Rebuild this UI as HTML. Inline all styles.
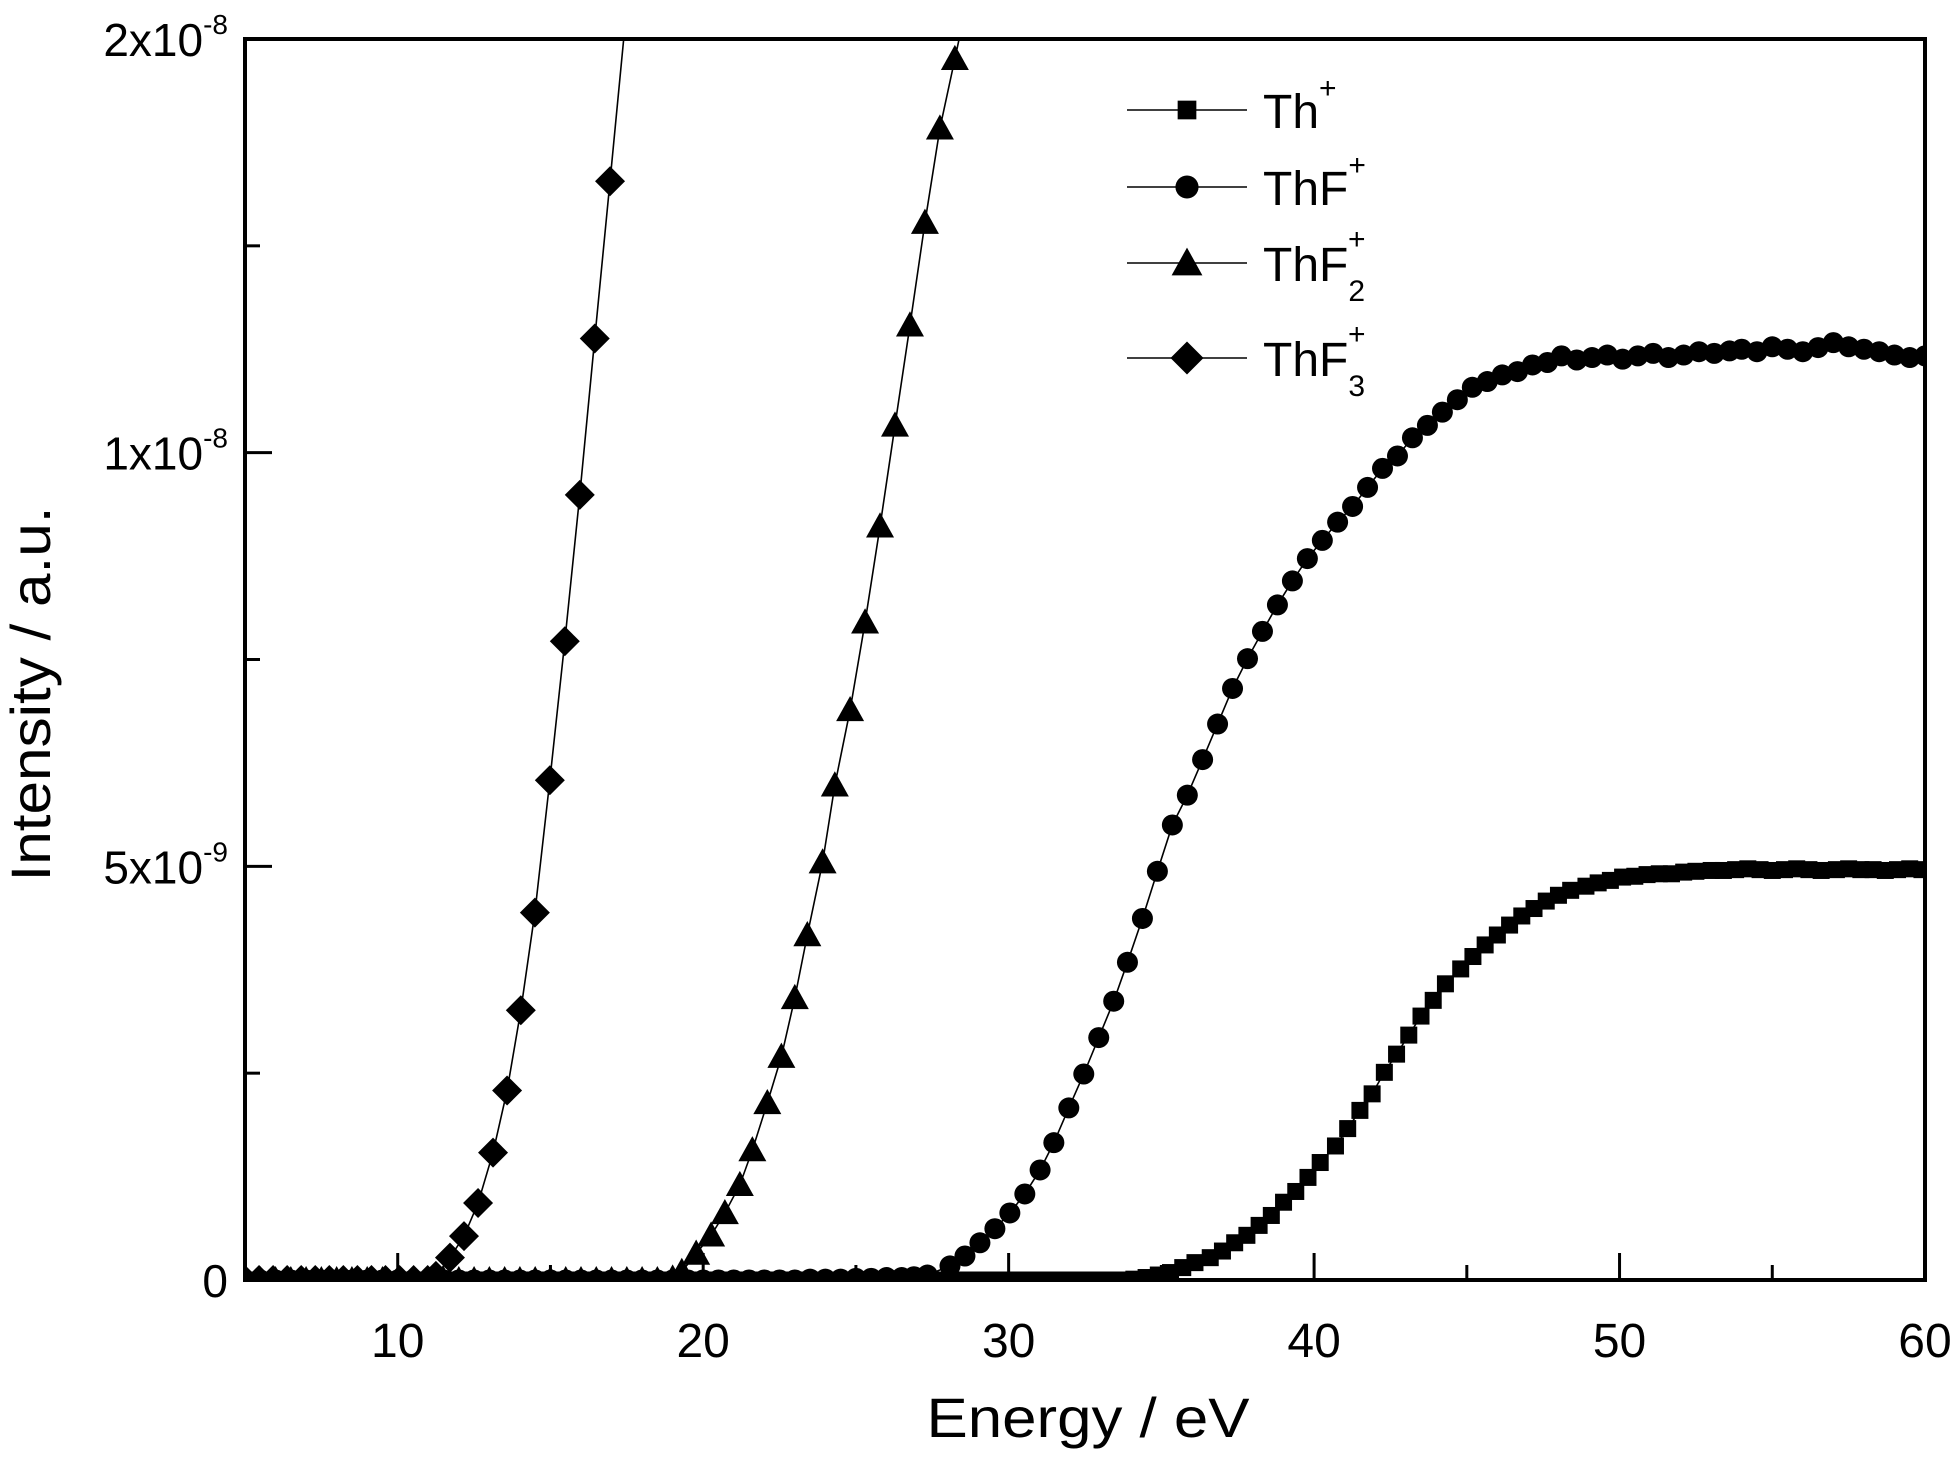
<!DOCTYPE html>
<html><head><meta charset="utf-8"><style>
html,body{margin:0;padding:0;background:#fff;}
svg{display:block;font-family:"Liberation Sans",Arial,sans-serif;}
</style></head><body>
<svg id="chart" width="1960" height="1462" viewBox="0 0 1960 1462" xmlns="http://www.w3.org/2000/svg">
<defs><clipPath id="plotclip"><rect x="245" y="39" width="1680" height="1241"/></clipPath></defs>
<rect x="0" y="0" width="1960" height="1462" fill="#fff"/>
<g id="series" clip-path="url(#plotclip)"></g>
<g id="axes"></g>
<g id="legend"></g>
<text x="1088" y="1437" font-size="56" text-anchor="middle" textLength="323" lengthAdjust="spacingAndGlyphs">Energy  / eV</text>
<text transform="translate(50,694) rotate(-90)" font-size="56" text-anchor="middle" textLength="375" lengthAdjust="spacingAndGlyphs">Intensity / a.u.</text>
</svg>
<script>
// ---- data (y in units of 1e-9) ----
const thX = [5.0,5.4,5.8,6.2,6.6,7.1,7.5,7.9,8.3,8.7,9.1,9.5,9.9,10.3,10.7,11.2,11.6,12.0,12.4,12.8,13.2,13.6,14.0,14.4,14.8,15.3,15.7,16.1,16.5,16.9,17.3,17.7,18.1,18.5,18.9,19.4,19.8,20.2,20.6,21.0,21.4,21.8,22.2,22.6,23.0,23.5,23.9,24.3,24.7,25.1,25.5,25.9,26.3,26.7,27.1,27.6,28.0,28.4,28.8,29.2,29.6,30.0,30.4,30.8,31.2,31.7,32.1,32.5,32.9,33.3,
33.7,34.1,34.5,34.9,35.3,35.7,36.1,36.6,37.0,37.4,37.8,38.2,38.6,39.0,39.4,39.8,40.2,40.7,41.1,41.5,41.9,42.3,42.7,43.1,43.5,43.9,44.3,44.8,45.2,45.6,46.0,46.4,46.8,47.2,47.6,48.0,48.4,48.9,49.3,49.7,50.1,50.5,50.9,51.3,51.7,52.1,52.5,53.0,53.4,53.8,54.2,54.6,55.0,55.4,55.8,56.2,56.6,57.1,57.5,57.9,58.3,58.7,59.1,59.5,59.9];
const thY = [0,0,0,0,0,0,0,0,0,0,0,0,0,0,0,0,0,0,0,0,0,0,0,0,0,0,0,0,0,0,0,0,0,0,0,0,0,0,0,0,0,0,0,0,0,0,0,0,0,0,0,0,0,0,0,0,0,0,0,0,0,0,0,0,0,0,0,0,0,0,
0,0.01,0.03,0.06,0.09,0.15,0.21,0.27,0.35,0.45,0.54,0.66,0.78,0.94,1.07,1.24,1.42,1.62,1.83,2.05,2.25,2.51,2.73,2.96,3.19,3.38,3.58,3.76,3.91,4.05,4.17,4.29,4.40,4.49,4.58,4.65,4.71,4.76,4.80,4.83,4.87,4.88,4.90,4.91,4.91,4.93,4.94,4.95,4.95,4.96,4.97,4.96,4.95,4.96,4.97,4.96,4.95,4.96,4.97,4.96,4.96,4.95,4.96,4.97,4.96];
const thfX = [5.0,5.5,6.0,6.5,7.0,7.5,8.0,8.5,9.0,9.5,10.0,10.5,11.0,11.5,12.0,12.5,13.0,13.5,14.0,14.5,15.0,15.5,16.0,16.5,17.0,17.5,18.0,18.5,19.0,19.5,20.0,20.5,21.0,21.5,22.0,22.5,23.0,23.5,24.0,24.5,25.0,25.5,26.0,26.5,26.9,
27.34,28.08,28.57,29.06,29.55,30.04,30.53,31.03,31.48,31.97,32.46,32.95,33.44,33.89,34.38,34.87,35.36,35.85,36.35,36.84,37.33,37.82,38.31,38.80,39.29,39.78,40.27,40.77,41.26,41.75,42.24,42.73,43.22,43.71,44.20,44.69,45.18,45.67,46.16,46.66,47.15,47.64,
48.1,48.6,49.1,49.6,50.1,50.6,51.1,51.6,52.1,52.6,53.1,53.6,54.0,54.5,55.0,55.5,56.0,56.5,57.0,57.5,58.0,58.5,59.0,59.5,60.0];
const thfY = [0,0,0,0,0,0,0,0,0,0,0,0,0,0,0,0,0,0,0,0,0,0,0,0,0,0,0,0,0,0,0,0,0,0,0,0,0,0.01,0.01,0.01,0.02,0.02,0.03,0.03,0.04,
0.06,0.17,0.29,0.45,0.62,0.81,1.04,1.33,1.66,2.08,2.49,2.93,3.37,3.84,4.37,4.94,5.50,5.86,6.29,6.72,7.15,7.51,7.84,8.16,8.45,8.72,8.94,9.16,9.35,9.58,9.81,9.96,10.18,10.33,10.49,10.64,10.79,10.86,10.94,10.98,11.06,11.09,
11.17,11.12,11.15,11.18,11.13,11.17,11.20,11.15,11.18,11.22,11.20,11.23,11.25,11.22,11.28,11.25,11.22,11.27,11.33,11.28,11.25,11.22,11.18,11.15,11.17];
const thf2X = [5.0,5.5,6.0,6.5,7.0,7.5,8.0,8.5,9.0,9.5,10.0,10.5,11.0,11.5,12.0,12.5,13.0,13.5,14.0,14.5,15.0,15.5,16.0,16.5,17.0,17.5,18.0,18.5,19.0,19.3,
19.77,20.26,20.71,21.20,21.61,22.10,22.56,23.00,23.41,23.91,24.31,24.81,25.30,25.79,26.28,26.77,27.26,27.75,28.24,28.61,29.1];
const thf2Y = [0,0,0,0,0,0,0,0,0,0,0,0,0,0,0,0,0,0,0,0,0,0,0,0,0,0,0,0,0.02,0.10,
0.32,0.54,0.81,1.15,1.57,2.14,2.70,3.41,4.17,5.05,5.98,6.89,7.95,9.11,10.33,11.54,12.78,13.92,14.76,15.4,16.2];
const thf3X = [5.0,5.46,5.92,6.38,6.84,7.30,7.76,8.22,8.68,9.14,9.60,10.06,10.52,10.98,11.25,11.71,12.17,12.63,13.12,13.58,14.03,14.49,14.98,15.47,15.96,16.45,16.95,17.45];
const thf3Y = [0,0,0,0,0,0,0,0,0,0,0,0,0,0,0.05,0.27,0.53,0.93,1.54,2.29,3.26,4.44,6.04,7.72,9.49,11.38,13.28,15.2];
const xTicks = [10,20,30,40,50,60];
const xTickLabels = ["10","20","30","40","50","60"];
const xMinor = [15,25,35,45,55];
const yTicks = [0,5,10,15];
const yTickMain = ["0","5x10","1x10","2x10"];
const yTickSup = ["","-9","-8","-8"];
const yMinor = [2.5,7.5,12.5];

const NS = "http://www.w3.org/2000/svg";
const X0=245, X1=1925, Y0=1280, Y1=39;
function sx(v){return X0+(v-5)/(60-5)*(X1-X0);}
function sy(v){return Y0-(v-0)/(15-0)*(Y0-Y1);}
function mk(tag, attrs, parent){const e=document.createElementNS(NS,tag);for(const k in attrs)e.setAttribute(k,attrs[k]);parent.appendChild(e);return e;}

function marker(type, cx, cy, parent, scale){
  scale = scale||1;
  let e;
  if(type==='square'){const s=17*scale;e=mk('rect',{x:cx-s/2,y:cy-s/2,width:s,height:s,fill:'#000'},parent);}
  else if(type==='circle'){e=mk('circle',{cx:cx,cy:cy,r:10.5*scale,fill:'#000'},parent);}
  else if(type==='triangle'){const w=14*scale,h=14*scale;e=mk('polygon',{points:`${cx},${cy-h} ${cx-w},${cy+h*0.8} ${cx+w},${cy+h*0.8}`,fill:'#000'},parent);}
  else {const r=15*scale;e=mk('polygon',{points:`${cx},${cy-r} ${cx+r},${cy} ${cx},${cy+r} ${cx-r},${cy}`,fill:'#000'},parent);}
  return e;
}

const series = document.getElementById('series');
const defs = [
  {name:'th',xs:thX,ys:thY,m:'square'},
  {name:'thf',xs:thfX,ys:thfY,m:'circle'},
  {name:'thf2',xs:thf2X,ys:thf2Y,m:'triangle'},
  {name:'thf3',xs:thf3X,ys:thf3Y,m:'diamond'}
];
defs.forEach(d=>{
  const g=mk('g',{},series);
  
  
  const pts=d.xs.map((x,i)=>sx(x)+','+sy(d.ys[i])).join(' ');
  const line=mk('polyline',{points:pts,fill:'none',stroke:'#000','stroke-width':1.6},g);
  
  
  d.xs.forEach((x,i)=>{
    const p=marker(d.m,sx(x),sy(d.ys[i]),g);
    
    
  });
});

const axes=document.getElementById('axes');
const frame=mk('rect',{x:X0,y:Y1,width:X1-X0,height:Y0-Y1,fill:'none',stroke:'#000','stroke-width':4},axes);


xTicks.forEach((v,i)=>{
  const t=mk('line',{x1:sx(v),x2:sx(v),y1:Y0,y2:Y0-27,stroke:'#000','stroke-width':3},axes);
  
  
  const l=mk('text',{x:sx(v),y:1357,'font-size':48,'text-anchor':'middle'},axes);
  l.textContent=xTickLabels[i];
  
  
});
xMinor.forEach(v=>{
  const t=mk('line',{x1:sx(v),x2:sx(v),y1:Y0,y2:Y0-15,stroke:'#000','stroke-width':3},axes);
  
  
});
yTicks.forEach((v,i)=>{
  const t=mk('line',{x1:X0,x2:X0+27,y1:sy(v),y2:sy(v),stroke:'#000','stroke-width':3},axes);
  
  
  const l=mk('text',{x:228,y:sy(v)+17,'font-size':46,'text-anchor':'end'},axes);
  
  
  const a=document.createElementNS(NS,'tspan');a.textContent=yTickMain[i];l.appendChild(a);
  if(yTickSup[i]){const b=document.createElementNS(NS,'tspan');b.setAttribute('font-size','28');b.setAttribute('dy','-22');b.textContent=yTickSup[i];l.appendChild(b);}
});
yMinor.forEach(v=>{
  const t=mk('line',{x1:X0,x2:X0+15,y1:sy(v),y2:sy(v),stroke:'#000','stroke-width':3},axes);
  
  
});

const legend=document.getElementById('legend');
const legItems=[
  {m:'square',y:110,main:'Th',sub:''},
  {m:'circle',y:187,main:'ThF',sub:''},
  {m:'triangle',y:263,main:'ThF',sub:'2'},
  {m:'diamond',y:358,main:'ThF',sub:'3'}
];
legItems.forEach(it=>{
  const g=mk('g',{},legend);
  
  
  mk('line',{x1:1127,x2:1247,y1:it.y,y2:it.y,stroke:'#000','stroke-width':1.6},g);
  marker(it.m,1187,it.y,g,1.1);
  const t=mk('text',{x:1263,y:it.y+18,'font-size':48},g);
  const a=document.createElementNS(NS,'tspan');a.textContent=it.main;t.appendChild(a);
  if(it.sub){const s=document.createElementNS(NS,'tspan');s.setAttribute('font-size','30');s.setAttribute('dy','20');s.textContent=it.sub;t.appendChild(s);
    const p=document.createElementNS(NS,'tspan');p.setAttribute('font-size','30');p.setAttribute('dx','-17');p.setAttribute('dy','-52');p.textContent='+';t.appendChild(p);}
  else{const p=document.createElementNS(NS,'tspan');p.setAttribute('font-size','30');p.setAttribute('dy','-30');p.textContent='+';t.appendChild(p);}
});
</script>
</body></html>
